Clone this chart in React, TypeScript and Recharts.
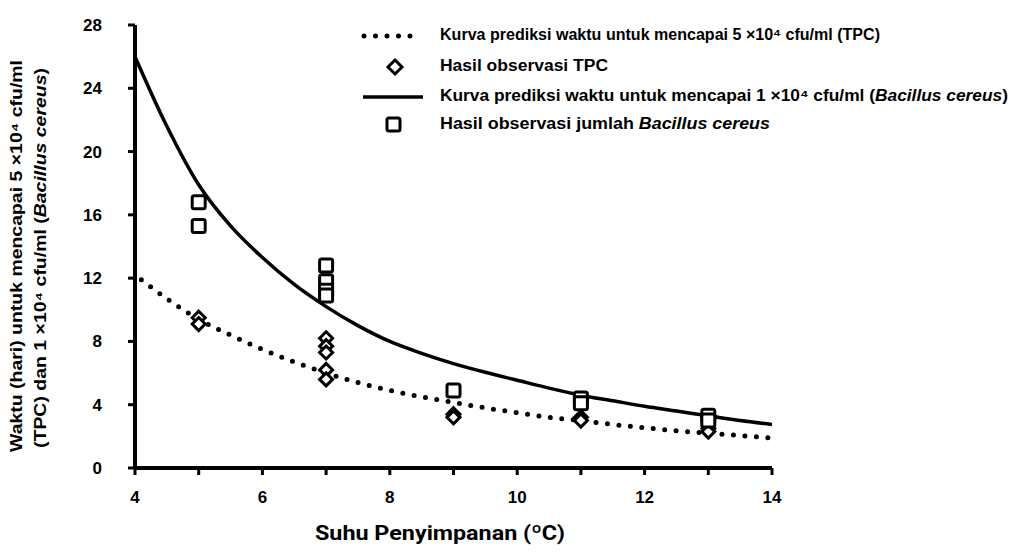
import {
  ComposedChart, Line, Scatter, XAxis, YAxis
} from 'recharts'

// kurva prediksi TPC (5 x10^4 cfu/ml)
const tpcCurveTemp = [4.1, 4.5, 5, 5.5, 6, 6.5, 7, 7.5, 8, 8.5, 9, 9.5, 10, 10.5, 11, 11.5, 12, 12.5, 13, 13.5, 14]
const tpcCurveDays = [11.9, 10.7, 9.4, 8.4, 7.5, 6.7, 6.0, 5.4, 4.9, 4.5, 4.15, 3.8, 3.5, 3.2, 3.0, 2.75, 2.55, 2.35, 2.2, 2.05, 1.9]

// kurva prediksi Bacillus cereus (1 x10^4 cfu/ml)
const bcCurveTemp = [4, 4.5, 5, 5.5, 6, 6.5, 7, 7.5, 8, 8.5, 9, 9.5, 10, 10.5, 11, 11.5, 12, 12.5, 13, 13.5, 14]
const bcCurveDays = [26.0, 21.6, 17.9, 15.3, 13.3, 11.6, 10.2, 9.0, 8.0, 7.25, 6.6, 6.05, 5.55, 5.05, 4.6, 4.25, 3.9, 3.6, 3.3, 3.0, 2.75]

// hasil observasi
const tpcObsTemp = [5, 5, 7, 7, 7, 7, 7, 9, 9, 11, 11, 13, 13]
const tpcObsDays = [9.5, 9.1, 8.2, 7.7, 7.3, 6.2, 5.6, 3.4, 3.2, 3.2, 3.0, 2.5, 2.3]
const bcObsTemp = [5, 5, 7, 7, 7, 7, 9, 11, 11, 13, 13]
const bcObsDays = [16.8, 15.3, 12.8, 11.8, 11.2, 10.9, 4.9, 4.4, 4.1, 3.3, 3.0]

const xTicks = [4, 5, 6, 7, 8, 9, 10, 11, 12, 13, 14]
const yTicks = [0, 4, 8, 12, 16, 20, 24, 28]

const zip = (xs: number[], ys: number[]) => xs.map((x, i) => ({ x, y: ys[i] }))

const tpcCurve = zip(tpcCurveTemp, tpcCurveDays)
const bcCurve = zip(bcCurveTemp, bcCurveDays)
const tpcObs = zip(tpcObsTemp, tpcObsDays)
const bcObs = zip(bcObsTemp, bcObsDays)

const FONT = "'Liberation Sans', Arial, sans-serif"

const Diamond = ({ cx, cy }: any) => (
  <polygon
    points={`${cx},${cy - 6.5} ${cx + 6.5},${cy} ${cx},${cy + 6.5} ${cx - 6.5},${cy}`}
    fill="white" stroke="black" strokeWidth={3}
  />
)

const Square = ({ cx, cy }: any) => (
  <rect x={cx - 6.5} y={cy - 6.5} width={13} height={13} rx={2}
    fill="white" stroke="black" strokeWidth={3} />
)

const txt = { fontFamily: FONT, fontWeight: 700, fontSize: 16, fill: 'black' } as const
const squeeze = (w: number) => ({ textLength: w, lengthAdjust: 'spacingAndGlyphs' as const })

// legenda di pojok kanan atas
const LegendBox = () => (
  <svg width={661} height={140} style={{ position: 'absolute', left: 355, top: 0 }}>
    <line x1={9} y1={36} x2={66} y2={36} stroke="black" strokeWidth={5}
      strokeDasharray="0 11.5" strokeLinecap="round" />
    <text x={85} y={40} {...txt} {...squeeze(440)}>Kurva prediksi waktu untuk mencapai 5 ×10⁴ cfu/ml (TPC)</text>

    <polygon points="40,60 47,67 40,74 33,67" fill="white" stroke="black" strokeWidth={3} />
    <text x={85} y={71} {...txt} {...squeeze(168)}>Hasil observasi TPC</text>

    <line x1={8} y1={97} x2={68} y2={97} stroke="black" strokeWidth={3.5} />
    <text x={85} y={101} {...txt} {...squeeze(568)}>
      Kurva prediksi waktu untuk mencapai 1 ×10⁴ cfu/ml (<tspan fontStyle="italic">Bacillus cereus</tspan>)
    </text>

    <rect x={32} y={118} width={13} height={13} rx={2} fill="white" stroke="black" strokeWidth={3} />
    <text x={85} y={129} {...txt} {...squeeze(330)}>
      Hasil observasi jumlah <tspan fontStyle="italic">Bacillus cereus</tspan>
    </text>
  </svg>
)

const YTitle = () => (
  <g>
    <text transform="translate(22,256) rotate(-90)" textAnchor="middle" {...txt} {...squeeze(392)}>
      Waktu (hari) untuk mencapai 5 ×10⁴ cfu/ml
    </text>
    <text transform="translate(46,258) rotate(-90)" textAnchor="middle" {...txt} {...squeeze(380)}>
      (TPC) dan 1 ×10⁴ cfu/ml (<tspan fontStyle="italic">Bacillus cereus</tspan>)
    </text>
  </g>
)

const XTitle = () => (
  <text x={440} y={540} textAnchor="middle" {...squeeze(250)}
    style={{ fontFamily: 'Roboto, sans-serif', fontWeight: 700, fontSize: 21, fill: 'black' }}>
    Suhu Penyimpanan (ºC)
  </text>
)

export default function App() {
  return (
    <div style={{ position: 'absolute', left: 0, top: 0, width: 1016, height: 552, background: 'white' }}>
      <ComposedChart width={1016} height={552} margin={{ top: 25, right: 244, left: 0, bottom: 0 }}>
        <XAxis
          type="number"
          dataKey="x"
          domain={[4, 14]}
          ticks={xTicks}
          interval={0}
          height={84}
          axisLine={{ stroke: 'black', strokeWidth: 4 }}
          tickLine={{ stroke: 'black', strokeWidth: 3 }}
          tickSize={7}
          tickMargin={16}
          tickFormatter={(v: number) => (v % 2 === 0 ? String(v) : '')}
          tick={{ ...txt, fontSize: 17 }}
          label={{ content: () => <XTitle /> }}
        />
        <YAxis
          type="number"
          dataKey="y"
          domain={[0, 28]}
          ticks={yTicks}
          interval={0}
          width={135}
          axisLine={{ stroke: 'black', strokeWidth: 4 }}
          tickLine={{ stroke: 'black', strokeWidth: 3 }}
          tickSize={7}
          tickMargin={26}
          tick={{ ...txt, fontSize: 17 }}
          label={{ content: () => <YTitle /> }}
        />
        <Line
          data={bcCurve}
          dataKey="y"
          type="monotone"
          stroke="black"
          strokeWidth={3.5}
          dot={false}
          activeDot={false}
          isAnimationActive={false}
        />
        <Line
          data={tpcCurve}
          dataKey="y"
          type="monotone"
          stroke="black"
          strokeWidth={5}
          strokeDasharray="0 11.5"
          strokeLinecap="round"
          dot={false}
          activeDot={false}
          isAnimationActive={false}
        />
        <Scatter data={tpcObs} dataKey="y" shape={<Diamond />} isAnimationActive={false} />
        <Scatter data={bcObs} dataKey="y" shape={<Square />} isAnimationActive={false} />
      </ComposedChart>
      <LegendBox />
    </div>
  )
}
